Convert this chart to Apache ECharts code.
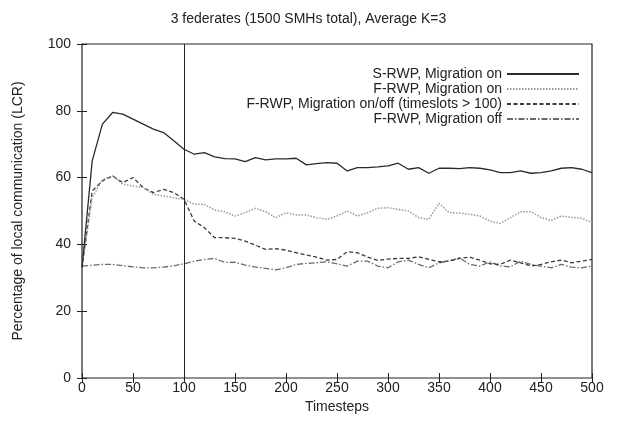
<!DOCTYPE html>
<html><head><meta charset="utf-8">
<script src="https://cdn.jsdelivr.net/npm/echarts@6/dist/echarts.min.js"></script>
<style>html,body{margin:0;padding:0;background:#fff}#c{width:617px;height:422px}</style>
</head><body><div id="c"></div>
<script>
const timesteps = [0,10,20,30,40,50,60,70,80,90,100,110,120,130,140,150,160,170,180,190,200,210,220,230,240,250,260,270,280,290,300,310,320,330,340,350,360,370,380,390,400,410,420,430,440,450,460,470,480,490,500];
const sRwpOn = [33,65,76,79.5,79,77.5,76,74.5,73.5,71,68.5,67,67.5,66.2,65.7,65.6,64.8,66,65.3,65.6,65.6,65.8,63.8,64.2,64.5,64.3,62,63,63,63.2,63.5,64.3,62.5,63,61.3,62.8,62.8,62.7,63,62.8,62.3,61.5,61.5,62,61.3,61.5,62,62.8,63,62.5,61.5];
const fRwpOn = [33,54,59.5,60.5,58,57.5,57,55,54.5,54,53.5,52,52,50.3,49.8,48.5,49.5,50.8,49.8,48,49.5,48.8,48.8,48,47.5,48.5,50,48.5,49.5,50.8,51,50.5,50,48,47.5,52.3,49.5,49.4,49,48.5,47,46.3,48,49.8,49.8,48,47.2,48.5,48.1,47.8,46.5];
const fRwpOnOff = [33,56,59,60.5,58.5,60,57,55.5,56.5,55.5,53.5,47,45,42,42,41.8,41,39.8,38.5,38.7,38.3,37.5,36.8,36.2,35.3,35.5,37.8,37.5,36.2,35.2,35.6,35.8,35.8,36.3,35.5,34.8,35,35.8,36.2,35.3,34.2,34,35.3,34.5,33.5,34,34.8,35.3,34.5,35,35.5];
const fRwpOff = [33.5,33.8,34,34,33.6,33.3,33,33,33.2,33.6,34.2,35,35.5,35.8,34.6,34.7,33.8,33.2,32.8,32.4,33,34,34.3,34.5,34.8,34.2,33.5,35,35,33.5,33,34.8,35.3,34,33,34.5,35,36,34,33.5,34.8,33.5,33.3,35,34,33.5,33,34,33.2,33,33.5];
const seriesNames = ['S-RWP, Migration on','F-RWP, Migration on','F-RWP, Migration on/off (timeslots > 100)','F-RWP, Migration off'];
const migrationStart = 100;

const pair = arr => timesteps.map((t,i)=>[t,arr[i]]);
const font = 'Liberation Sans, Arial, sans-serif';
const chart = echarts.init(document.getElementById('c'), null, {renderer:'canvas'});
const axisCommon = {
  axisLine:{show:false},
  axisTick:{show:true, inside:true, length:5, lineStyle:{color:'#222', width:1}},
  splitLine:{show:false}
};
const styles = [
  {color:'#2a2a2a', width:1.3, type:'solid'},
  {color:'#9a9a9a', width:1.5, type:[1.5,1.5]},
  {color:'#3a3a3a', width:1.3, type:[4,2.5]},
  {color:'#6a6a6a', width:1.3, type:[6,2,1.5,2]}
];
const datas = [sRwpOn, fRwpOn, fRwpOnOff, fRwpOff];
const series = datas.map((d,i)=>({
  name: seriesNames[i], type:'line', data: pair(d), symbol:'none', showSymbol:false,
  lineStyle: styles[i], itemStyle:{color: styles[i].color}, animation:false, z: 4-i
}));
series[0].markLine = {
  silent:true, symbol:['none','none'], label:{show:false},
  lineStyle:{color:'#222', width:1, type:'solid'},
  data:[{xAxis: migrationStart}], animation:false
};
chart.setOption({
  backgroundColor:'#fff',
  animation:false,
  title:{text:'3 federates (1500 SMHs total), Average K=3', left:'center', top:7,
    textStyle:{fontFamily:font, fontSize:14, fontWeight:'normal', color:'#222'}},
  grid:{left:82, right:25, top:44, bottom:44, show:true, borderColor:'#222', borderWidth:1.2, backgroundColor:'transparent', outerBoundsMode:'none', containLabel:false},
  legend:{
    orient:'vertical', right:32, top:62, align:'right', itemWidth:72, itemHeight:13, itemGap:1,
    itemStyle:{color:'transparent', borderWidth:0, opacity:0},
    textStyle:{fontFamily:font, fontSize:14, color:'#222'},
    data: seriesNames
  },
  xAxis:[
    Object.assign({type:'value', min:0, max:500, interval:50, name:'Timesteps', nameLocation:'middle', nameGap:19,
      nameTextStyle:{fontFamily:font, fontSize:14, color:'#222'},
      axisLabel:{fontFamily:font, fontSize:14, color:'#222', margin:3}}, axisCommon),
    Object.assign({type:'value', min:0, max:500, interval:50, position:'top', axisLabel:{show:false}}, axisCommon)
  ],
  yAxis:[
    Object.assign({type:'value', min:0, max:100, interval:20, name:'Percentage of local communication (LCR)', nameLocation:'middle', nameGap:57,
      nameTextStyle:{fontFamily:font, fontSize:14, color:'#222'},
      axisLabel:{fontFamily:font, fontSize:14, color:'#222', margin:11}}, axisCommon),
    Object.assign({type:'value', min:0, max:100, interval:20, position:'right', axisLabel:{show:false}}, axisCommon)
  ],
  series: series
});
</script></body></html>
